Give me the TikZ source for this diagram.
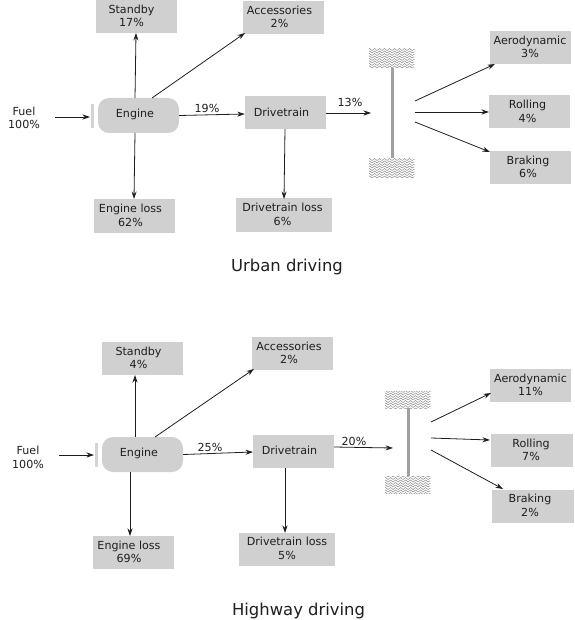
\documentclass[tikz,border=0pt]{standalone}
\usepackage{fontspec}
\setmainfont{DejaVu Sans}
\usetikzlibrary{arrows.meta,decorations.pathmorphing}
\definecolor{boxgray}{RGB}{208,208,208}
\definecolor{inkc}{RGB}{30,30,30}
\definecolor{axlegray}{RGB}{160,160,160}
\definecolor{gategray}{RGB}{212,212,212}
\tikzset{
  x=1pt,y=-1pt,
  lbl/.style={text=inkc,font=\fontsize{11.1}{13.4}\selectfont,align=center,inner sep=0pt},
  ttl/.style={text=inkc,font=\fontsize{16.4}{19}\selectfont,inner sep=0pt},
  boxn/.style={fill=boxgray,minimum width=81pt,minimum height=33pt,inner sep=0pt},
  engn/.style={fill=boxgray,rounded corners=11pt,minimum width=81pt,minimum height=35pt,inner sep=0pt},
  arr/.style={-{Stealth[length=7.5pt,width=5pt]},line width=0.8pt,draw=inkc},
  barn/.style={inner sep=0pt,minimum width=3pt,fill=axlegray},
  gaten/.style={inner sep=0pt,minimum width=3pt,minimum height=24pt,fill=gategray},
  wheel/.style={minimum width=46pt,minimum height=20pt,inner sep=0pt,
    path picture={
      \foreach \k in {-9,-6.5,...,10}
        \draw[black!50,line width=0.45pt,decorate,decoration={snake,amplitude=1pt,segment length=5pt}]
          ([xshift=-24pt,yshift=\k pt]path picture bounding box.center) --
          ([xshift=24pt,yshift=\k pt]path picture bounding box.center);
    }},
}
% \bx[style options]{name}{x,y}{text x-nudge}{text}
\newcommand{\bx}[5][boxn]{\node[#1,label={[lbl,xshift=#4pt,yshift=0.8pt]center:{#5}}] (#2) at (#3) {};}
\begin{document}
\begin{tikzpicture}
\useasboundingbox (0,0) rectangle (574,620);
% ---------- Urban
\node[lbl] (fuelA) at (24,118) {Fuel\\100\%};
\coordinate (fuelAend) at (90,117);
\coordinate (fuelAstart) at (55,117);
\bx[engn]{engA}{138.5,115.5}{-3.5}{Engine}
\bx{stbA}{136,16.5}{-4.5}{Standby\\17\%}
\bx{accA}{283.5,17.5}{-4}{Accessories\\2\%}
\bx{dtrA}{285.5,113}{-4}{Drivetrain}
\bx{elA}{134.5,216}{-4}{Engine loss\\62\%}
\bx[boxn,minimum width=96pt]{dlA}{284,215}{-1.5}{Drivetrain loss\\6\%}
\bx{aeA}{530,47.5}{0}{Aerodynamic\\3\%}
\bx{roA}{529.5,112}{-2}{Rolling\\4\%}
\bx{brA}{530,167.5}{-2}{Braking\\6\%}
\node[wheel] (wtA) at (392,58) {};
\node[wheel] (wbA) at (392,168) {};
\node[barn,minimum height=90pt] (axA) at (392,113) {};
\coordinate (inA) at (371,113);
\coordinate (o1A) at (415,101);
\coordinate (o2A) at (415,112);
\coordinate (o3A) at (415,122);
\node[gaten] (gaA) at (92,116) {};
\draw[arr] (fuelAstart) -- (fuelAend);
\draw[arr] (135,98) -- (136,33);
\draw[arr] (152,98) -- (245,33);
\draw[arr] (engA.east) -- (dtrA.west |- 0,114);
\draw[arr] (135,133) -- (134,199);
\draw[arr] (285,129) -- (284,199);
\draw[arr] (dtrA.east) -- (inA);
\draw[arr] (o1A) -- (495,64);
\draw[arr] (o2A) -- (489,112);
\draw[arr] (o3A) -- (490,152);
\node[lbl] at (207,108) {19\%};
\node[lbl] at (350,102) {13\%};
\node[ttl] (tA) at (287,266.5) {Urban driving};
% ---------- Highway
\node[lbl] (fuelB) at (28,457.5) {Fuel\\100\%};
\coordinate (fuelBstart) at (59,455);
\coordinate (fuelBend) at (94,455);
\bx[engn]{engB}{142.5,454.5}{-3.5}{Engine}
\bx{stbB}{142.5,358.5}{-4}{Standby\\4\%}
\bx{accB}{292.5,353.5}{-3.5}{Accessories\\2\%}
\bx{dtrB}{293.5,451.5}{-4}{Drivetrain}
\bx{elB}{133,552.5}{-4}{Engine loss\\69\%}
\bx[boxn,minimum width=96pt]{dlB}{287,549}{0}{Drivetrain loss\\5\%}
\bx{aeB}{530.5,385.5}{0}{Aerodynamic\\11\%}
\bx[boxn,minimum width=82pt]{roB}{532,450.5}{-1}{Rolling\\7\%}
\bx[boxn,minimum width=82pt]{brB}{533,506}{-3}{Braking\\2\%}
\node[wheel,minimum height=17pt] (wtB) at (408,400) {};
\node[wheel,minimum height=17pt] (wbB) at (408,484.5) {};
\node[barn,minimum height=68pt] (axB) at (408,442.2) {};
\coordinate (inB) at (393,448);
\coordinate (o1B) at (431,422);
\coordinate (o2B) at (431,438);
\coordinate (o3B) at (431,450);
\node[gaten] (gaB) at (96,455) {};
\draw[arr] (fuelBstart) -- (fuelBend);
\draw[arr] (135,437) -- (135,375);
\draw[arr] (155,437) -- (254,369);
\draw[arr] (engB.east) -- (253,452);
\draw[arr] (130,472) -- (130,536);
\draw[arr] (285,468) -- (285,533);
\draw[arr] (334,447) -- (inB);
\draw[arr] (o1B) -- (491,393);
\draw[arr] (o2B) -- (490,440);
\draw[arr] (o3B) -- (503,489);
\node[lbl] at (210,447) {25\%};
\node[lbl] at (354,441) {20\%};
\node[ttl] (tB) at (298.5,611) {Highway driving};
\end{tikzpicture}
\end{document}
